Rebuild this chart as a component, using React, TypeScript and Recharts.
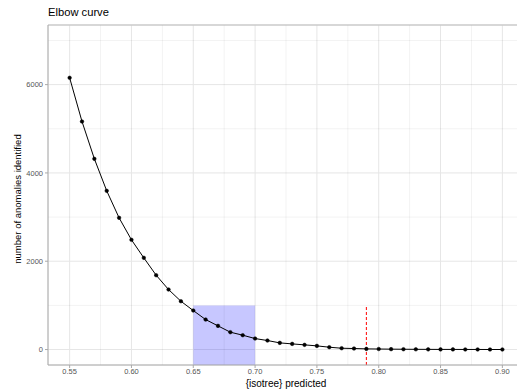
import { ComposedChart, Line, XAxis, YAxis, CartesianGrid, ReferenceArea, ReferenceLine } from "recharts"

const thresholds = [
  0.55, 0.56, 0.57, 0.58, 0.59, 0.6, 0.61, 0.62, 0.63, 0.64, 0.65, 0.66,
  0.67, 0.68, 0.69, 0.7, 0.71, 0.72, 0.73, 0.74, 0.75, 0.76, 0.77, 0.78,
  0.79, 0.8, 0.81, 0.82, 0.83, 0.84, 0.85, 0.86, 0.87, 0.88, 0.89, 0.9,
]
const anomalies = [
  6154, 5164, 4319, 3594, 2983, 2485, 2077, 1683, 1359, 1094, 883, 679,
  536, 393, 325, 249, 204, 151, 128, 106, 83, 53, 30, 23,
  15, 12, 9, 7, 5, 4, 3, 3, 2, 2, 1, 1,
]
const xTicks = [0.55, 0.6, 0.65, 0.7, 0.75, 0.8, 0.85, 0.9]
const xMinor = [0.575, 0.625, 0.675, 0.725, 0.775, 0.825, 0.875]
const yTicks = [0, 2000, 4000, 6000]
const yMinor = [1000, 3000, 5000, 7000]
const highlight = { x1: 0.65, x2: 0.7, yTop: 1000 }
const cutoff = { x: 0.79, yTop: 1000 }

const xDomain: [number, number] = [0.5325, 0.9175]
const yDomain: [number, number] = [-350, 7350]

const data = thresholds.map((t, i) => ({ t, n: anomalies[i] }))

const font = "'Liberation Sans', Arial, sans-serif"
const tickStyle = { fontSize: 7.5, fill: "#555", fontFamily: font }

export default function App() {
  return (
    <div style={{ position: "absolute", left: 0, top: 0, width: 517, height: 389, overflow: "hidden", background: "#fff", fontFamily: font }}>
      <div style={{ position: "absolute", left: 48, top: 6, fontSize: 11.2, color: "#000" }}>Elbow curve</div>
      <div
        style={{
          position: "absolute",
          left: 17,
          top: 199,
          fontSize: 9.5,
          color: "#000",
          whiteSpace: "nowrap",
          transform: "translate(-50%, -50%) rotate(-90deg)",
        }}
      >
        number of anomalies identified
      </div>
      <ComposedChart width={524} height={389} data={data} margin={{ top: 25, right: 0, left: 0, bottom: 0 }}>
        <CartesianGrid stroke="#e6e6e6" strokeWidth={1} />
        {xMinor.map((v) => (
          <ReferenceLine key={"xm" + v} x={v} stroke="#000" strokeOpacity={0.05} strokeWidth={1} />
        ))}
        {yMinor.map((v) => (
          <ReferenceLine key={"ym" + v} y={v} stroke="#000" strokeOpacity={0.05} strokeWidth={1} />
        ))}
        <ReferenceLine y={yDomain[1]} stroke="#bbbbbb" strokeWidth={1} />
        <XAxis
          dataKey="t"
          type="number"
          domain={xDomain}
          ticks={xTicks}
          allowDataOverflow
          tickFormatter={(v: number) => v.toFixed(2)}
          height={24}
          stroke="#aaaaaa"
          tickSize={3}
          tickMargin={1}
          tick={tickStyle}
          label={{ value: "{isotree} predicted", position: "insideBottom", offset: 2, fontSize: 10, fill: "#000", fontFamily: font }}
        />
        <YAxis
          type="number"
          domain={yDomain}
          ticks={yTicks}
          allowDataOverflow
          width={48}
          stroke="#aaaaaa"
          tickSize={3}
          tickMargin={2}
          tick={tickStyle}
        />
        <ReferenceArea
          x1={highlight.x1}
          x2={highlight.x2}
          y1={yDomain[0]}
          y2={highlight.yTop}
          fill="#0000ff"
          fillOpacity={0.22}
          stroke="none"
        />
        <ReferenceLine
          segment={[
            { x: cutoff.x, y: yDomain[0] },
            { x: cutoff.x, y: cutoff.yTop },
          ]}
          stroke="#ff0000"
          strokeDasharray="3 2"
          strokeWidth={1}
        />
        <Line
          type="linear"
          dataKey="n"
          stroke="#000"
          strokeWidth={1}
          dot={{ r: 1.8, fill: "#000", stroke: "#000", strokeWidth: 0.5 }}
          isAnimationActive={false}
        />
      </ComposedChart>
    </div>
  )
}
